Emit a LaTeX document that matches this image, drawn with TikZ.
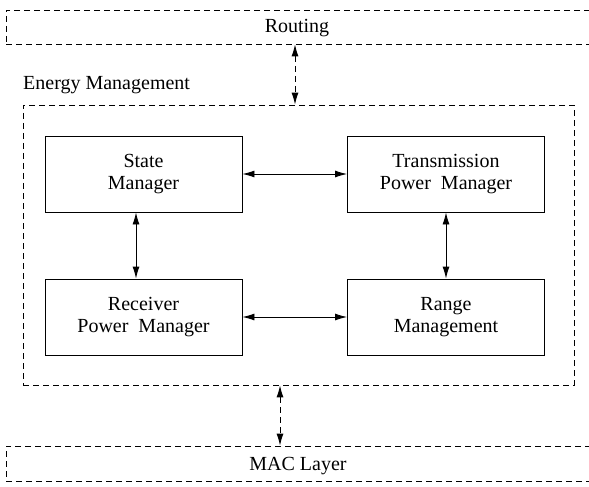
\documentclass[tikz,border=0pt]{standalone}
\usepackage{fontspec}
\setmainfont{Liberation Serif}
\usetikzlibrary{arrows.meta}
\begin{document}
\begin{tikzpicture}[x=1pt,y=-1pt,
        every node/.style={font=\fontsize{20}{22}\selectfont},
        box/.style={draw,line width=0.9pt,minimum width=197pt,minimum height=76pt,inner sep=0pt,align=center},
        layer/.style={draw,dash pattern=on 6pt off 4pt,line width=0.8pt,inner sep=0pt},
        link/.style={{Latex[length=12pt,width=7pt]}-{Latex[length=12pt,width=7pt]},line width=0.9pt},
        dlink/.style={link,dash pattern=on 6pt off 4pt}]
        \useasboundingbox (0,0) rectangle (589,487);
        \clip (0,0) rectangle (589,487);

        \node[layer,minimum width=600pt,minimum height=34pt] (routing) at (306,27) {};
        \node[anchor=base] (routingtext) at (297,33) {Routing};
        \node[anchor=base west,inner sep=0pt] (emtext) at (23,89) {Energy Management};
        \node[layer,minimum width=551pt,minimum height=280pt] (energy) at (298.5,245) {};

        \node[box] (state) at (143.5,174) {State\\Manager};
        \node[box] (trans) at (446,174) {Transmission\\Power~ Manager};
        \node[box] (recv) at (143.5,317) {Receiver\\Power~ Manager};
        \node[box] (range) at (446,317) {Range\\Management};

        \node[layer,minimum width=600pt,minimum height=35pt] (mac) at (306,463.5) {};
        \node[anchor=base] (mactext) at (298,470) {MAC Layer};

        \coordinate (lx) at (136,0);
        \coordinate (tx) at (295,0);
        \coordinate (bx) at (280,0);

        \draw[link] (state) -- (trans);
        \draw[link] (recv) -- (range);
        \draw[link] (state.south -| lx) -- (recv.north -| lx);
        \draw[link] (trans) -- (range);
        \draw[dlink] (routing.south -| tx) -- (energy.north -| tx);
        \draw[dlink] (energy.south -| bx) -- (mac.north -| bx);
    \end{tikzpicture}
\end{document}
